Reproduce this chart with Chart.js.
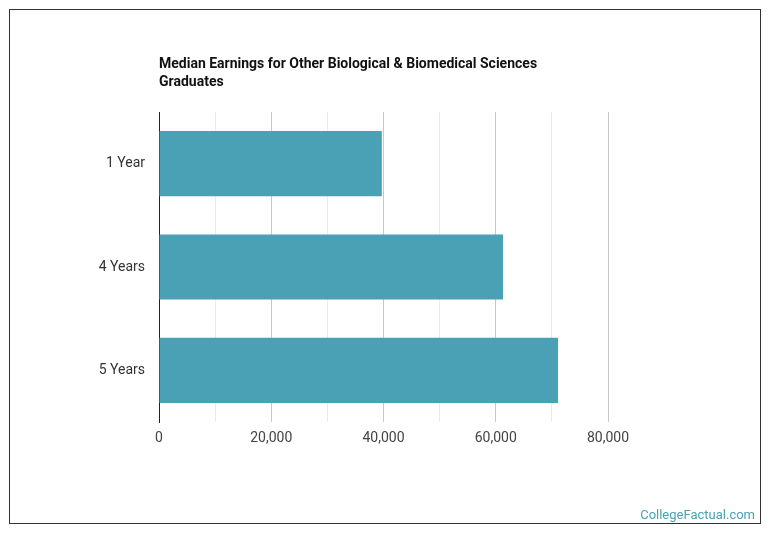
<!DOCTYPE html>
<html>
<head>
<meta charset="utf-8">
<script src="https://cdn.jsdelivr.net/npm/chart.js@4"></script>
<style>
  html, body { margin: 0; padding: 0; background: #fff; }
  #wrap { width: 770px; height: 536px; position: relative; }
</style>
</head>
<body>
<div id="wrap"><canvas id="earnings"></canvas></div>
<script>
'use strict';

const categories = ['1 Year', '4 Years', '5 Years'];
const earnings = [39700, 61300, 71100];
const titleLines = ['Median Earnings for Other Biological & Biomedical Sciences', 'Graduates'];
const watermark = 'CollegeFactual.com';

const fontFamily = 'Roboto, "Open Sans", sans-serif';
const barColor = '#4aa0b4';

// title, frame and watermark are drawn by hand so they line up with the chart area
const decorations = {
  id: 'decorations',
  afterDraw(chart) {
    const ctx = chart.ctx;
    const area = chart.chartArea;
    ctx.save();
    ctx.strokeStyle = '#333';
    ctx.lineWidth = 1;
    ctx.strokeRect(9.5, 9.5, 751, 514);

    ctx.fillStyle = '#111';
    ctx.font = 'bold 14px ' + fontFamily;
    ctx.textAlign = 'left';
    ctx.textBaseline = 'middle';
    titleLines.forEach((line, i) => ctx.fillText(line, area.left, 64 + i * 18));

    ctx.fillStyle = '#4aa0b4';
    ctx.font = '13px ' + fontFamily;
    ctx.textAlign = 'right';
    ctx.textBaseline = 'alphabetic';
    ctx.fillText(watermark, 755, 519);
    ctx.restore();
  }
};

new Chart(document.getElementById('earnings'), {
  type: 'bar',
  data: {
    labels: categories,
    datasets: [{
      data: earnings,
      backgroundColor: barColor,
      borderWidth: 0,
      barPercentage: 0.9,
      categoryPercentage: 0.7,
    }],
  },
  options: {
    indexAxis: 'y',
    responsive: true,
    maintainAspectRatio: false,
    animation: false,
    layout: {
      padding: {left: 9, right: 162, top: 112, bottom: 84},
    },
    scales: {
      x: {
        min: 0,
        max: 80000,
        ticks: {
          stepSize: 10000,
          autoSkip: false,
          maxRotation: 0,
          padding: 8,
          color: '#444',
          font: {family: fontFamily, size: 14},
          callback: (value) => value % 20000 === 0 ? value.toLocaleString('en-US') : '',
        },
        grid: {
          drawTicks: false,
          color: (c) => c.tick && c.tick.value % 20000 === 0 ? '#c8c8c8' : '#ebebeb',
        },
        border: {display: false},
        afterFit: (scale) => { scale.height = 30; },
      },
      y: {
        ticks: {
          padding: 14,
          color: '#333',
          font: {family: fontFamily, size: 14},
        },
        grid: {display: false, drawTicks: false},
        border: {display: true, color: '#222', width: 1},
        afterFit: (scale) => { scale.width = 150; },
      },
    },
    plugins: {
      legend: {display: false},
      tooltip: {enabled: false},
    },
  },
  plugins: [decorations],
});
</script>
</body>
</html>
